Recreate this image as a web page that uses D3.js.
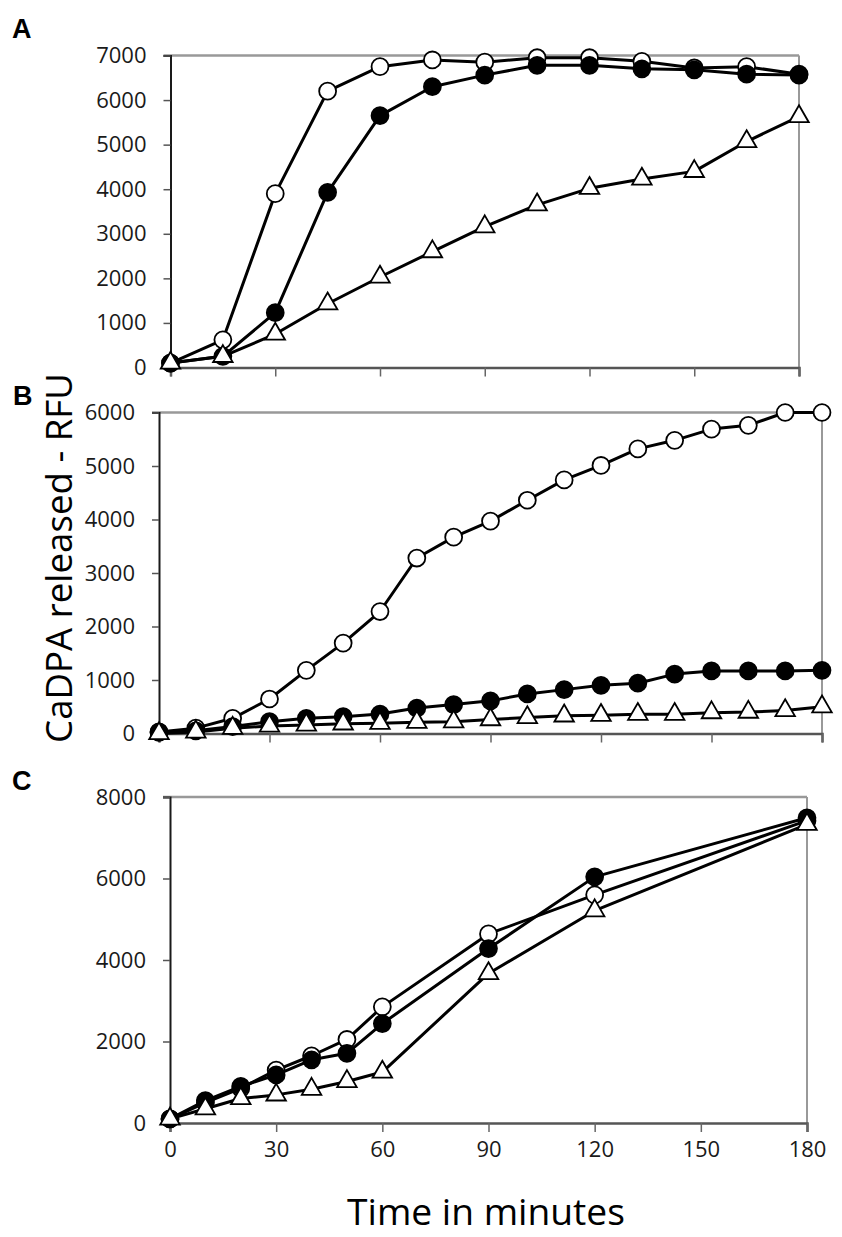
<!DOCTYPE html>
<html>
<head>
<meta charset="utf-8">
<script src="https://cdn.jsdelivr.net/npm/d3@7"></script>
<style>
  html, body { margin: 0; padding: 0; background: #fff; }
  svg { display: block; }
</style>
</head>
<body>
<svg id="chart" width="842" height="1237"></svg>
<script>
// ---------------- DATA ----------------
const timesA = [0, 15, 30, 45, 60, 75, 90, 105, 120, 135, 150, 165, 180];
const aOpen   = [100, 620, 3900, 6200, 6750, 6900, 6850, 6950, 6950, 6870, 6720, 6750, 6580];
const aFilled = [100, 250, 1230, 3930, 5650, 6300, 6560, 6780, 6780, 6700, 6680, 6580, 6560];
const aTri    = [100, 250, 750, 1430, 2030, 2600, 3160, 3650, 4020, 4230, 4400, 5070, 5630];

const timesB = [0, 10, 20, 30, 40, 50, 60, 70, 80, 90, 100, 110, 120, 130, 140, 150, 160, 170, 180];
const bOpen   = [30, 100, 284, 645, 1180, 1690, 2280, 3280, 3670, 3970, 4360, 4740, 5010, 5320, 5480, 5690, 5760, 6000, 6000];
const bFilled = [20, 50, 130, 220, 284, 314, 364, 475, 540, 610, 740, 820, 900, 940, 1110, 1170, 1170, 1170, 1180];
const bTri    = [0, 30, 100, 140, 160, 180, 190, 210, 220, 260, 300, 330, 340, 360, 360, 390, 400, 430, 500];

const timesC = [0, 10, 20, 30, 40, 50, 60, 90, 120, 180];
const cOpen   = [100, 500, 850, 1300, 1650, 2050, 2850, 4640, 5600, 7420];
const cFilled = [100, 550, 900, 1180, 1550, 1710, 2440, 4280, 6040, 7490];
const cTri    = [100, 350, 600, 690, 830, 1020, 1250, 3670, 5210, 7330];

const xTicks = [0, 30, 60, 90, 120, 150, 180];
const yTicksA = [0, 1000, 2000, 3000, 4000, 5000, 6000, 7000];
const yTicksB = [0, 1000, 2000, 3000, 4000, 5000, 6000];
const yTicksC = [0, 2000, 4000, 6000, 8000];

const panelLabels = ["A", "B", "C"];
const yTitle = "CaDPA released - RFU";
const xTitle = "Time in minutes";

// ---------------- LAYOUT ----------------
const panels = [
  { label: panelLabels[0], times: timesA, open: aOpen, filled: aFilled, tri: aTri,
    yTicks: yTicksA, yMax: 7000, left: 170.5, right: 799, top: 55.5, bottom: 367.5,
    lx: 12, ly: 38, showX: false },
  { label: panelLabels[1], times: timesB, open: bOpen, filled: bFilled, tri: bTri,
    yTicks: yTicksB, yMax: 6000, left: 159, right: 822, top: 412.5, bottom: 733.5,
    lx: 13, ly: 405, showX: false },
  { label: panelLabels[2], times: timesC, open: cOpen, filled: cFilled, tri: cTri,
    yTicks: yTicksC, yMax: 8000, left: 170, right: 807, top: 797, bottom: 1123,
    lx: 12, ly: 790, showX: true }
];

const svg = d3.select("#chart");
const tickFont = "'Open Sans', 'DejaVu Sans', sans-serif";

panels.forEach(p => {
  const x = d3.scaleLinear().domain([0, 180]).range([p.left, p.right]);
  const y = d3.scaleLinear().domain([0, p.yMax]).range([p.bottom, p.top]);
  const g = svg.append("g");

  // plot-area border: top & right grey
  g.append("line").attr("x1", x(0) - 7).attr("x2", x(180)).attr("y1", y(p.yMax)).attr("y2", y(p.yMax))
    .attr("stroke", "#999").attr("stroke-width", 2.4);
  g.append("line").attr("x1", x(180)).attr("x2", x(180)).attr("y1", y(p.yMax)).attr("y2", y(0))
    .attr("stroke", "#999").attr("stroke-width", 2);

  // y axis
  const yAxis = d3.axisLeft(y).tickValues(p.yTicks).tickSize(7).tickPadding(17).tickFormat(d3.format("d"));
  const ya = g.append("g").attr("transform", `translate(${x(0)},0)`).call(yAxis);
  ya.select(".domain").attr("stroke", "#1a1a1a").attr("stroke-width", 2);
  ya.selectAll(".tick line").attr("stroke", "#555").attr("stroke-width", 1.5);
  ya.selectAll(".tick text").attr("font-family", tickFont).attr("font-size", 22).attr("fill", "#1a1a1a");

  // x axis
  const xAxis = d3.axisBottom(x).tickValues(xTicks).tickSize(9).tickPadding(9)
    .tickFormat(p.showX ? d3.format("d") : () => "");
  const xa = g.append("g").attr("transform", `translate(0,${y(0)})`).call(xAxis);
  xa.select(".domain").attr("stroke", "#555").attr("stroke-width", 2.5);
  xa.selectAll(".tick line").attr("stroke", "#666").attr("stroke-width", 1.5);
  xa.selectAll(".tick text").attr("font-family", tickFont).attr("font-size", 22).attr("fill", "#1a1a1a");

  // series
  const series = [
    { vals: p.open, kind: "open" },
    { vals: p.filled, kind: "filled" },
    { vals: p.tri, kind: "tri" }
  ];
  const line = d3.line().x(d => x(d[0])).y(d => y(d[1]));
  series.forEach(s => {
    const pts = p.times.map((t, i) => [t, s.vals[i]]);
    g.append("path").datum(pts).attr("d", line)
      .attr("fill", "none").attr("stroke", "#000").attr("stroke-width", 3)
      .attr("stroke-linejoin", "round");
    const sym = s.kind === "tri" ? d3.symbol().type(d3.symbolTriangle).size(165)
                                 : d3.symbol().type(d3.symbolCircle).size(225);
    g.selectAll(null).data(pts).enter().append("path")
      .attr("d", sym)
      .attr("transform", d => `translate(${x(d[0])},${y(d[1])})`)
      .attr("fill", s.kind === "filled" ? "#000" : "#fff")
      .attr("stroke", "#000").attr("stroke-width", 1.8);
  });

  // panel label
  svg.append("text").attr("x", p.lx).attr("y", p.ly).text(p.label)
    .attr("font-family", "'Liberation Sans', Arial, sans-serif").attr("font-weight", "bold")
    .attr("font-size", 27).attr("fill", "#000");
});

// Y title (rotated)
const yt = svg.append("text").text(yTitle)
  .attr("font-family", tickFont).attr("font-size", 38).attr("fill", "#000")
  .attr("text-anchor", "middle")
  .attr("transform", "translate(72,558) rotate(-90)");
const ytLen = yt.node().getComputedTextLength();
yt.attr("font-size", 38 * 370 / ytLen);

// X title
const xt = svg.append("text").text(xTitle)
  .attr("font-family", tickFont).attr("font-size", 36).attr("fill", "#000")
  .attr("text-anchor", "middle").attr("x", 486).attr("y", 1225);
const xtLen = xt.node().getComputedTextLength();
xt.attr("font-size", 36 * 278 / xtLen);
</script>
</body>
</html>
